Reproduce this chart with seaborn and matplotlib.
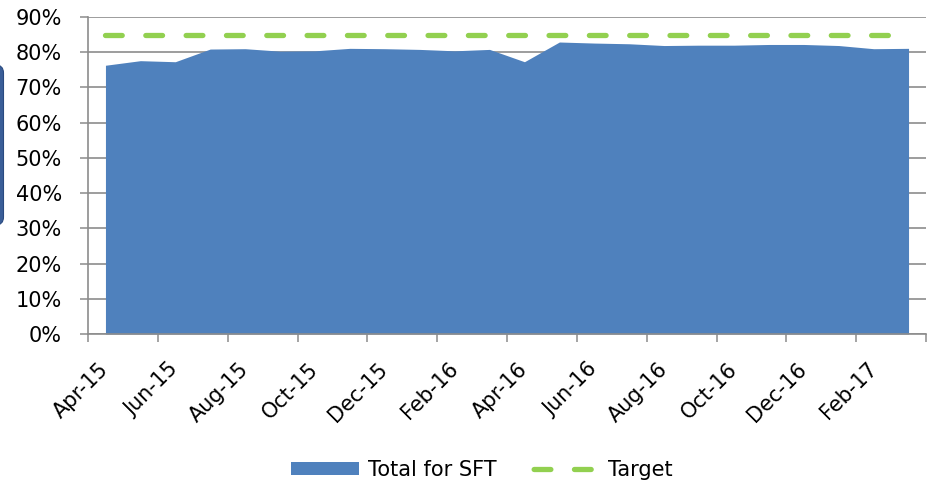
import matplotlib
matplotlib.use("Agg")
import matplotlib.pyplot as plt
import seaborn as sns
import pandas as pd
import numpy as np
from matplotlib.patches import Patch, FancyBboxPatch
from matplotlib.lines import Line2D
from matplotlib.transforms import IdentityTransform

# Monthly series
months = ["Apr-15", "May-15", "Jun-15", "Jul-15", "Aug-15", "Sep-15",
          "Oct-15", "Nov-15", "Dec-15", "Jan-16", "Feb-16", "Mar-16",
          "Apr-16", "May-16", "Jun-16", "Jul-16", "Aug-16", "Sep-16",
          "Oct-16", "Nov-16", "Dec-16", "Jan-17", "Feb-17", "Mar-17"]
sft_total = [76.3, 77.6, 77.3, 80.9, 81.0, 80.3, 80.4, 81.1, 81.0, 80.8,
             80.4, 80.8, 77.3, 82.9, 82.6, 82.4, 81.9, 82.0, 82.0, 82.2,
             82.2, 81.9, 81.0, 81.1]
target = 85.0
y_ticks = list(range(0, 91, 10))

BLUE = "#4F81BD"
GREEN = "#92D050"
GRAY = "#8c8c8c"
FS = 15

sns.set_theme(style="white")
plt.rcParams["font.family"] = ["DejaVu Sans"]
plt.rcParams["text.color"] = "black"

df = pd.DataFrame({
    "pos": np.arange(len(months)),
    "month": months,
    "sft": sft_total,
    "target": [target] * len(months),
})

fig = plt.figure(figsize=(9.3, 4.83), dpi=100)
W, H = 930, 483
ax = fig.add_axes([88 / W, 1 - 334 / H, (926 - 88) / W, (334 - 17) / H])

# Area for the SFT total
ax.fill_between(df["pos"], 0, df["sft"], color=BLUE, lw=0, zorder=2)

# Dashed target line
dash = (3.17, 4.47)
sns.lineplot(data=df, x="pos", y="target", ax=ax, color=GREEN, lw=3.8,
             linestyle=(0, dash), dash_capstyle="round", zorder=3)

ax.set_xlim(-0.5, len(months) - 0.5)
ax.set_ylim(0, 90)
ax.set_xlabel("")
ax.set_ylabel("")

# y axis
ax.set_yticks(y_ticks)
ax.set_yticklabels([f"{v}%" for v in y_ticks])
ax.yaxis.grid(True, color=GRAY, lw=1.2)
ax.xaxis.grid(False)
ax.set_axisbelow(True)
ax.tick_params(axis="y", direction="out", length=5.8, width=1.1, color=GRAY,
               pad=13, labelsize=FS, labelcolor="black", left=True)

# x axis: tick marks between category pairs, labels on every second month
ax.set_xticks(np.arange(-0.5, len(months), 2))
ax.set_xticklabels([])
ax.set_xticks(df["pos"][::2], minor=True)
ax.set_xticklabels(months[::2], minor=True, rotation=45, ha="right",
                   va="center", rotation_mode="anchor")
ax.tick_params(axis="x", which="major", direction="out", length=5.8,
               width=1.1, color=GRAY, bottom=True)
ax.tick_params(axis="x", which="minor", length=0, pad=23, labelsize=FS,
               labelcolor="black", bottom=True)

for side in ("top", "right"):
    ax.spines[side].set_visible(False)
for side in ("left", "bottom"):
    ax.spines[side].set_color(GRAY)
    ax.spines[side].set_linewidth(1.2)

# Legend
handles = [
    Patch(facecolor=BLUE, edgecolor="none", label="Total for SFT"),
    Line2D([], [], color=GREEN, lw=3.8, linestyle=(7.14, dash),
           dash_capstyle="round", label="Target"),
]
fig.legend(handles=handles, loc="center", bbox_to_anchor=(482 / W, 1 - 470 / H),
           ncol=2, frameon=False, fontsize=FS, handlelength=3.27,
           handleheight=0.63, handletextpad=0.43, columnspacing=1.63,
           labelcolor="black")

# Rounded panel edge at the left border
fig.patches.append(FancyBboxPatch((-15, H - 225), 18.5, 160,
                                  boxstyle="round,pad=0,rounding_size=8",
                                  facecolor="#3a5e98", edgecolor="#2a4a80",
                                  lw=0.8, transform=IdentityTransform(),
                                  figure=fig))

fig.savefig("out.png", dpi=100)
